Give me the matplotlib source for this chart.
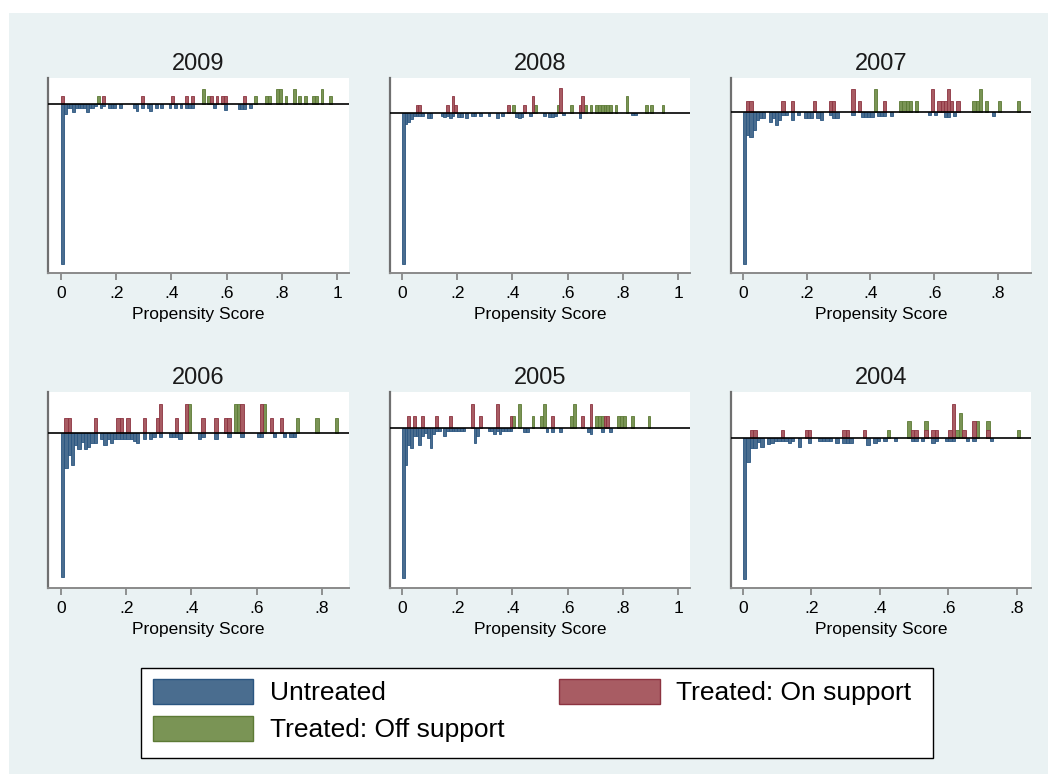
import matplotlib
matplotlib.use("Agg")
import matplotlib.pyplot as plt
from matplotlib.patches import Patch, Rectangle

plt.rcParams['font.family'] = ['Liberation Sans', 'DejaVu Sans']

# === Data: histogram bins (left edge) and heights, per year ===
bin_w = 0.01

unt_2009_x = [0.00, 0.01, 0.02, 0.03, 0.04, 0.05, 0.06, 0.07, 0.08, 0.09, 0.10, 0.11, 0.12, 0.14, 0.15,
              0.17, 0.18, 0.19, 0.21, 0.26, 0.27, 0.29, 0.31, 0.32, 0.34, 0.36, 0.39, 0.41, 0.43, 0.45,
              0.46, 0.47, 0.55, 0.59, 0.64, 0.65, 0.66, 0.68]
unt_2009_h = [21.0, 1.3, 0.55, 0.55, 1.0, 0.55, 0.55, 0.55, 0.55, 1.0, 0.5, 0.5, 0.3, 0.5, 0.3,
              0.5, 0.5, 0.5, 0.5, 0.5, 0.9, 0.5, 0.6, 0.9, 0.5, 0.5, 0.6, 0.5, 0.6, 0.5,
              0.5, 0.5, 0.6, 0.8, 0.7, 0.7, 0.7, 0.6]
on_2009_x = [0.00, 0.15, 0.29, 0.40, 0.45, 0.47, 0.54, 0.56, 0.58, 0.59, 0.66]
on_2009_h = [1, 1, 1, 1, 1, 1, 1, 1, 1, 1, 1]
off_2009_x = [0.13, 0.51, 0.53, 0.70, 0.74, 0.75, 0.78, 0.79, 0.81, 0.84, 0.86, 0.88, 0.91, 0.92, 0.94, 0.97]
off_2009_h = [1, 2, 1, 1, 1, 1, 2, 2, 1, 2, 1, 1, 1, 1, 2, 1]

unt_2008_x = [0.00, 0.01, 0.02, 0.03, 0.04, 0.05, 0.06, 0.07, 0.09, 0.10, 0.14, 0.15, 0.16, 0.17, 0.18,
              0.20, 0.21, 0.23, 0.25, 0.26, 0.28, 0.31, 0.34, 0.36, 0.41, 0.42, 0.43, 0.46, 0.51, 0.53,
              0.54, 0.55, 0.58, 0.64, 0.83, 0.84]
unt_2008_h = [18.2, 1.4, 1.1, 0.8, 0.4, 0.4, 0.4, 0.4, 0.6, 0.6, 0.4, 0.5, 0.4, 0.6, 0.4,
              0.5, 0.5, 0.6, 0.4, 0.4, 0.4, 0.4, 0.6, 0.4, 0.5, 0.6, 0.5, 0.4, 0.4, 0.5,
              0.5, 0.4, 0.3, 0.6, 0.3, 0.3]
on_2008_x = [0.05, 0.06, 0.16, 0.18, 0.19, 0.38, 0.44, 0.47, 0.57, 0.64, 0.65]
on_2008_h = [1, 1, 1, 2, 1, 1, 1, 2, 3, 1, 2]
off_2008_x = [0.40, 0.48, 0.56, 0.61, 0.66, 0.68, 0.70, 0.71, 0.72, 0.73, 0.74, 0.75, 0.77, 0.81, 0.88, 0.90, 0.94]
off_2008_h = [1, 1, 1, 1, 1, 1, 1, 1, 1, 1, 1, 1, 1, 2, 1, 1, 1]

unt_2007_x = [0.00, 0.01, 0.02, 0.03, 0.04, 0.05, 0.06, 0.08, 0.09, 0.10, 0.11, 0.12, 0.13, 0.15, 0.17,
              0.19, 0.20, 0.21, 0.23, 0.24, 0.27, 0.28, 0.29, 0.34, 0.37, 0.38, 0.39, 0.40, 0.42, 0.43,
              0.44, 0.46, 0.58, 0.60, 0.63, 0.64, 0.66, 0.78]
unt_2007_h = [13.2, 2.0, 2.2, 1.6, 0.7, 0.5, 0.5, 0.9, 0.5, 1.15, 0.7, 0.3, 0.3, 0.7, 0.3,
              0.5, 0.5, 0.5, 0.5, 0.7, 0.3, 0.5, 0.5, 0.3, 0.4, 0.4, 0.4, 0.4, 0.35, 0.35,
              0.35, 0.35, 0.3, 0.3, 0.45, 0.45, 0.35, 0.35]
on_2007_x = [0.01, 0.02, 0.12, 0.15, 0.22, 0.27, 0.28, 0.34, 0.36, 0.44, 0.59, 0.61, 0.62, 0.63, 0.64, 0.65, 0.67]
on_2007_h = [1, 1, 1, 1, 1, 1, 1, 2, 1, 1, 2, 1, 1, 1, 2, 1, 1]
off_2007_x = [0.41, 0.49, 0.50, 0.51, 0.52, 0.54, 0.72, 0.73, 0.74, 0.76, 0.80, 0.86]
off_2007_h = [2, 1, 1, 1, 1, 1, 1, 1, 2, 1, 1, 1]

unt_2006_x = [0.00, 0.01, 0.02, 0.03, 0.04, 0.05, 0.06, 0.07, 0.08, 0.09, 0.10, 0.12, 0.13, 0.14, 0.15,
              0.16, 0.17, 0.18, 0.19, 0.20, 0.21, 0.22, 0.23, 0.25, 0.27, 0.28, 0.30, 0.33, 0.34, 0.35,
              0.36, 0.42, 0.43, 0.47, 0.51, 0.55, 0.60, 0.61, 0.65, 0.68, 0.70, 0.71]
unt_2006_h = [10.1, 2.5, 1.6, 2.3, 0.86, 1.16, 0.63, 1.16, 0.98, 0.7, 0.7, 0.47, 0.9, 0.47, 0.7,
              0.47, 0.47, 0.47, 0.47, 0.47, 0.47, 0.6, 0.7, 0.47, 0.47, 0.28, 0.28, 0.28, 0.28, 0.28,
              0.47, 0.47, 0.28, 0.47, 0.28, 0.28, 0.28, 0.28, 0.28, 0.28, 0.28, 0.28]
on_2006_x = [0.01, 0.02, 0.10, 0.17, 0.18, 0.20, 0.25, 0.29, 0.30, 0.35, 0.38, 0.43, 0.47, 0.50, 0.51,
             0.55, 0.61, 0.64, 0.67]
on_2006_h = [1, 1, 1, 1, 1, 1, 1, 1, 2, 1, 2, 1, 1, 1, 1, 2, 2, 1, 1]
off_2006_x = [0.39, 0.53, 0.54, 0.62, 0.72, 0.78, 0.84]
off_2006_h = [2, 2, 2, 2, 1, 1, 1]

unt_2005_x = [0.00, 0.01, 0.02, 0.03, 0.04, 0.05, 0.06, 0.07, 0.08, 0.09, 0.10, 0.11, 0.12, 0.13, 0.15,
              0.16, 0.17, 0.18, 0.19, 0.20, 0.21, 0.22, 0.26, 0.27, 0.31, 0.32, 0.33, 0.34, 0.35, 0.36,
              0.37, 0.38, 0.39, 0.44, 0.45, 0.52, 0.54, 0.57, 0.67, 0.68, 0.72, 0.75]
unt_2005_h = [12.5, 3.05, 1.4, 1.67, 0.7, 0.7, 1.4, 0.7, 0.4, 0.8, 1.67, 0.5, 0.22, 0.22, 0.7,
              0.22, 0.22, 0.22, 0.22, 0.22, 0.22, 0.22, 1.25, 0.7, 0.22, 0.22, 0.5, 0.22, 0.5, 0.22,
              0.22, 0.22, 0.22, 0.3, 0.3, 0.3, 0.3, 0.3, 0.3, 0.5, 0.3, 0.3]
on_2005_x = [0.02, 0.04, 0.07, 0.12, 0.17, 0.25, 0.28, 0.34, 0.39, 0.54, 0.65, 0.68, 0.73, 0.74]
on_2005_h = [1, 1, 1, 1, 1, 2, 1, 2, 1, 1, 1, 2, 1, 1]
off_2005_x = [0.40, 0.42, 0.47, 0.50, 0.51, 0.61, 0.62, 0.70, 0.71, 0.72, 0.78, 0.79, 0.80, 0.83, 0.89]
off_2005_h = [1, 2, 1, 1, 2, 1, 2, 1, 1, 1, 1, 1, 1, 1, 1]

unt_2004_x = [0.00, 0.01, 0.02, 0.03, 0.04, 0.05, 0.07, 0.08, 0.09, 0.10, 0.11, 0.12, 0.13, 0.14, 0.16,
              0.19, 0.22, 0.23, 0.24, 0.25, 0.27, 0.29, 0.30, 0.31, 0.36, 0.38, 0.39, 0.41, 0.44, 0.49,
              0.50, 0.52, 0.55, 0.56, 0.59, 0.60, 0.61, 0.65, 0.67, 0.72]
unt_2004_h = [16.3, 2.7, 1.15, 1.15, 0.4, 0.96, 0.7, 0.5, 0.27, 0.27, 0.27, 0.27, 0.5, 0.27, 0.96,
              0.5, 0.27, 0.27, 0.27, 0.27, 0.5, 0.5, 0.5, 0.5, 0.77, 0.5, 0.27, 0.27, 0.27, 0.27,
              0.27, 0.27, 0.5, 0.27, 0.27, 0.27, 0.27, 0.27, 0.27, 0.27]
on_2004_x = [0.02, 0.03, 0.11, 0.18, 0.19, 0.29, 0.30, 0.35, 0.49, 0.50, 0.53, 0.55, 0.56, 0.60, 0.61,
             0.64, 0.67, 0.71]
on_2004_h = [1, 1, 1, 1, 1, 1, 1, 1, 1, 1, 1, 1, 1, 1, 4, 1, 2, 1]
off_2004_x = [0.42, 0.48, 0.53, 0.62, 0.63, 0.68, 0.71, 0.80]
off_2004_h = [1, 2, 2, 1, 3, 2, 2, 1]

ticks_to_1 = [0, 0.2, 0.4, 0.6, 0.8, 1.0]
labels_to_1 = ["0", ".2", ".4", ".6", ".8", "1"]
ticks_to_08 = [0, 0.2, 0.4, 0.6, 0.8]
labels_to_08 = ["0", ".2", ".4", ".6", ".8"]

# === Style ===
W, H = 1055, 774
c_unt, e_unt = "#4a6d8f", "#2a5580"
c_on, e_on = "#a85c63", "#8c3340"
c_off, e_off = "#7a9455", "#5c7a35"
bg = "#eaf2f3"

fig = plt.figure(figsize=(W / 100, H / 100), dpi=100)
fig.patches.append(Rectangle((9 / W, 0), (1048 - 9) / W, (H - 13) / H,
                             transform=fig.transFigure, facecolor=bg, edgecolor="none", zorder=-10))

# panel: year, pixel box (left, top, right, bottom), xlim, ylim, ticks, data
panels = [
    ("2009", (48, 78, 349, 273), (-0.047, 1.043), (-22.2, 3.4), ticks_to_1, labels_to_1,
     unt_2009_x, unt_2009_h, on_2009_x, on_2009_h, off_2009_x, off_2009_h),
    ("2008", (390, 78, 690, 273), (-0.043, 1.043), (-19.3, 4.2), ticks_to_1, labels_to_1,
     unt_2008_x, unt_2008_h, on_2008_x, on_2008_h, off_2008_x, off_2008_h),
    ("2007", (731, 78, 1031, 273), (-0.038, 0.904), (-14.0, 2.96), ticks_to_08, labels_to_08,
     unt_2007_x, unt_2007_h, on_2007_x, on_2007_h, off_2007_x, off_2007_h),
    ("2006", (48, 392, 349, 588), (-0.040, 0.883), (-10.9, 2.85), ticks_to_08, labels_to_08,
     unt_2006_x, unt_2006_h, on_2006_x, on_2006_h, off_2006_x, off_2006_h),
    ("2005", (390, 392, 690, 588), (-0.043, 1.043), (-13.3, 3.0), ticks_to_1, labels_to_1,
     unt_2005_x, unt_2005_h, on_2005_x, on_2005_h, off_2005_x, off_2005_h),
    ("2004", (731, 392, 1031, 588), (-0.035, 0.841), (-17.4, 5.4), ticks_to_08, labels_to_08,
     unt_2004_x, unt_2004_h, on_2004_x, on_2004_h, off_2004_x, off_2004_h),
]

for (year, box, xlim, ylim, ticks, tlabels, ux, uh, ox, oh, fx, fh) in panels:
    l, t, r, b = box
    ax = fig.add_axes([l / W, 1 - b / H, (r - l) / W, (b - t) / H])
    ax.set_facecolor("white")
    ax.bar(ux, [-v for v in uh], width=bin_w, align="edge", color=c_unt, edgecolor=e_unt, linewidth=0.6)
    ax.bar(fx, fh, width=bin_w, align="edge", color=c_off, edgecolor=e_off, linewidth=0.6)
    ax.bar(ox, oh, width=bin_w, align="edge", color=c_on, edgecolor=e_on, linewidth=0.6)
    ax.axhline(0, color="black", linewidth=1.2, zorder=3)
    ax.set_xlim(*xlim)
    ax.set_ylim(*ylim)
    ax.set_xticks(ticks)
    ax.set_xticklabels(tlabels, fontsize=12.5)
    ax.set_yticks([])
    ax.tick_params(axis="x", length=5, width=1.2, color="#7f7f7f", pad=4.5)
    for s in ["top", "right"]:
        ax.spines[s].set_visible(False)
    ax.spines["left"].set_color("#707070")
    ax.spines["left"].set_linewidth(1.6)
    ax.spines["bottom"].set_color("#8a8a8a")
    ax.spines["bottom"].set_linewidth(1.4)
    ax.set_title(year, fontsize=17, pad=6, color="#1a1a1a")
    ax.set_xlabel("Propensity Score", fontsize=12.5, labelpad=4.5)

# legend frame drawn as its own box, entries packed inside it
fig.patches.append(Rectangle((141 / W, 1 - 758 / H), (933 - 141) / W, (758 - 668) / H,
                             transform=fig.transFigure, facecolor="white", edgecolor="black",
                             linewidth=1.0, zorder=1))
handles = [Patch(facecolor=c_unt, edgecolor=e_unt, label="Untreated"),
           Patch(facecolor=c_off, edgecolor=e_off, label="Treated: Off support"),
           Patch(facecolor=c_on, edgecolor=e_on, label="Treated: On support")]
leg = fig.legend(handles=handles, ncol=2, loc="center",
                 bbox_to_anchor=(153 / W, 1 - 743 / H, (911 - 153) / W, (743 - 678) / H),
                 mode="expand", borderaxespad=0, borderpad=0, fontsize=19, frameon=False,
                 handlelength=3.8, handleheight=1.1, handletextpad=0.62, labelspacing=0.4,
                 columnspacing=1.0)

fig.savefig("out.png", dpi=100, facecolor="white")
